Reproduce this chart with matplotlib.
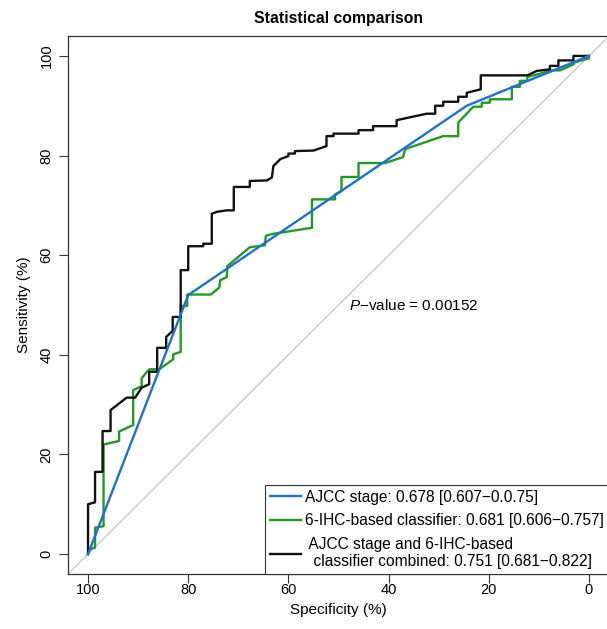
import matplotlib

matplotlib.use("Agg")
import matplotlib.pyplot as plt
from matplotlib.lines import Line2D

plt.rcParams["font.family"] = ["Liberation Sans", "DejaVu Sans"]
plt.rcParams["mathtext.fontset"] = "custom"
plt.rcParams["mathtext.rm"] = "Liberation Sans"
plt.rcParams["mathtext.it"] = "Liberation Sans:italic"

# ROC curves (specificity %, sensitivity %)
ajcc_spec = [100, 80.0, 24.4, 0]
ajcc_sens = [0, 52.0, 90.0, 100]

ihc_spec = [100, 99.6, 98.6, 98.6, 96.9, 96.9, 93.8, 93.8, 91.0, 91.0, 89.3, 89.3,
            87.8, 85.8, 83.0, 83.0, 81.5, 81.5, 80.2, 80.2, 75.5, 73.8, 73.6, 72.3,
            72.2, 67.7, 64.7, 64.5, 63.0, 55.3, 55.3, 50.7, 50.7, 49.4, 49.4, 46.0,
            46.0, 40.7, 37.1, 36.7, 29.1, 26.1, 26.1, 23.1, 21.4, 21.4, 19.8, 19.8,
            15.4, 15.4, 13.8, 13.8, 12.3, 12.3, 9.5, 7.5, 5.8, 3.1, 3.1, 1.5, 0]
ihc_sens = [0, 1.0, 1.3, 5.3, 5.6, 22.0, 22.7, 24.6, 25.9, 32.9, 33.7, 35.3,
            37.1, 37.1, 39.1, 40.1, 40.6, 49.8, 49.8, 52.1, 52.1, 53.5, 55.0, 55.6,
            57.8, 61.6, 62.0, 63.9, 64.3, 65.5, 71.2, 71.2, 72.2, 72.9, 75.7, 75.7,
            78.5, 78.5, 79.7, 81.3, 83.9, 83.9, 86.6, 89.8, 89.8, 90.6, 90.6, 91.3,
            91.3, 93.8, 93.8, 95.0, 95.0, 95.8, 96.5, 97.1, 97.1, 98.3, 98.6, 99.1, 99.5]

comb_spec = [100, 100, 98.6, 98.6, 97.1, 97.1, 95.5, 95.5, 92.3, 90.6, 89.3, 87.8,
             87.8, 86.2, 86.2, 84.4, 84.4, 83.1, 83.1, 81.5, 81.5, 80.0, 80.0, 77.0,
             77.0, 75.3, 75.3, 74.3, 72.3, 70.9, 70.9, 67.7, 67.7, 64.3, 63.3, 63.0,
             61.6, 60.0, 60.0, 58.7, 58.7, 55.0, 52.4, 52.4, 51.0, 51.0, 46.0, 46.0,
             43.1, 43.1, 38.4, 38.4, 32.4, 30.7, 30.7, 29.1, 29.1, 26.1, 26.1, 24.4,
             24.4, 21.6, 21.6, 12.3, 10.4, 7.8, 7.8, 6.1, 6.1, 3.1, 3.1, 0]
comb_sens = [0, 10.0, 10.4, 16.5, 16.5, 24.7, 24.7, 28.9, 31.4, 31.4, 33.4, 34.1,
             36.6, 36.6, 41.4, 41.4, 43.6, 44.8, 47.6, 47.6, 57.0, 57.0, 61.8, 61.8,
             62.3, 62.3, 68.3, 68.7, 69.0, 69.0, 73.7, 73.7, 74.9, 75.0, 75.6, 77.9,
             79.3, 79.9, 80.4, 80.4, 80.9, 81.0, 81.9, 83.9, 83.9, 84.4, 84.4, 85.1,
             85.1, 85.9, 85.9, 87.1, 88.4, 88.4, 90.0, 90.0, 90.8, 90.8, 91.8, 91.8,
             92.6, 93.3, 96.1, 96.1, 97.0, 97.3, 98.0, 98.0, 99.1, 99.1, 100, 100]

labels = ["AJCC stage: 0.678 [0.607\u22120.0.75]",
          "6-IHC-based classifier: 0.681 [0.606\u22120.757]",
          " AJCC stage and 6-IHC-based\n  classifier combined: 0.751 [0.681\u22120.822]"]
colors = ["#1f6fd1", "#229a22", "#111111"]
ticks = [100, 80, 60, 40, 20, 0]
p_text = "$\\mathit{P}$\u2212value = 0.00152"

fig = plt.figure(figsize=(6.07, 6.29), dpi=100)
ax = fig.add_axes([68 / 607, 55 / 629, 541 / 607, 538 / 629])

ax.axline((100, 0), (0, 100), color="#c4c4c4", lw=0.9, zorder=1)
ax.plot(ajcc_spec, ajcc_sens, color=colors[0], lw=1.7, zorder=3)
ax.plot(ihc_spec, ihc_sens, color=colors[1], lw=1.7, zorder=2)
ax.plot(comb_spec, comb_sens, color=colors[2], lw=1.7, zorder=2)

ax.set_xlim(104, -4)
ax.set_ylim(-4, 104)
ax.set_xticks(ticks)
ax.set_yticks(ticks)
ax.tick_params(length=6.3, width=0.8, color="#333333", labelsize=10.5, pad=0.5)
ax.tick_params(axis="y", pad=4)
for lab in ax.get_yticklabels():
    lab.set_rotation(90)
    lab.set_va("center")
for sp in ax.spines.values():
    sp.set_linewidth(0.9)
    sp.set_color("#333333")

ax.set_xlabel("Specificity (%)", fontsize=11, labelpad=4)
ax.set_ylabel("Sensitivity (%)", fontsize=11, labelpad=6)
ax.set_title("Statistical comparison", fontsize=11.3, fontweight="bold", pad=9)

ax.text(35, 50, p_text, fontsize=11, ha="center", va="center")

handles = [Line2D([], [], color=c, lw=1.7) for c in colors]
leg = ax.legend(handles, labels, loc="lower right", borderaxespad=0,
                fancybox=False, framealpha=1, edgecolor="#333333",
                fontsize=11.2, handlelength=2.0, handletextpad=0.3,
                borderpad=0.3, labelspacing=0.55)
leg.get_frame().set_linewidth(0.8)

fig.savefig("out.png", dpi=100)
